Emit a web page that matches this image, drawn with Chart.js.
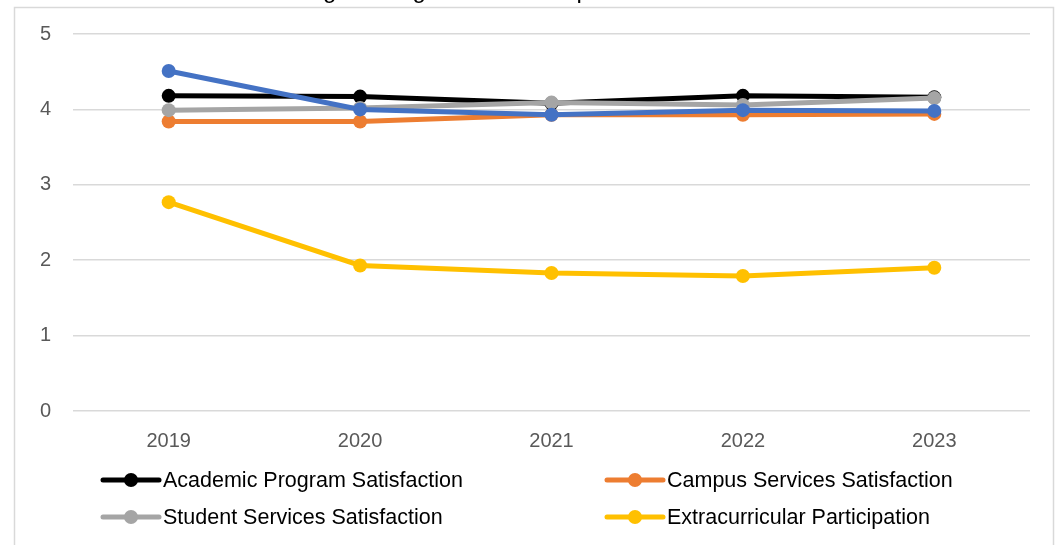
<!DOCTYPE html>
<html>
<head>
<meta charset="utf-8">
<script src="https://cdn.jsdelivr.net/npm/chart.js@4.4.1/dist/chart.umd.min.js"></script>
<style>
  html, body { margin: 0; padding: 0; background: #fff; overflow: hidden; }
  #wrap { position: absolute; left: 0; top: 0; width: 1057px; height: 600px; }
</style>
</head>
<body>
<div id="wrap"><canvas id="myChart" width="1057" height="600"></canvas></div>
<script>
var years = ['2019', '2020', '2021', '2022', '2023'];
var yTicks = [0, 1, 2, 3, 4, 5];
var chartTitle = 'Average Rating of Student Experience Indicators';

var seriesNames = [
  'Academic Program Satisfaction',
  'Campus Services Satisfaction',
  'Student Services Satisfaction',
  'Extracurricular Participation',
  'Overall Experience Rating'
];
var academic = [4.18, 4.17, 4.08, 4.18, 4.16];
var campus = [3.84, 3.84, 3.93, 3.93, 3.94];
var student = [3.99, 4.02, 4.09, 4.06, 4.15];
var extracurricular = [2.77, 1.93, 1.83, 1.79, 1.90];
var overall = [4.51, 4.00, 3.93, 3.99, 3.98];
var seriesColors = ['#000000', '#ED7D31', '#A5A5A5', '#FFC000', '#4472C4'];

var FONT = "'Liberation Sans', Arial, sans-serif";

var allValues = [academic, campus, student, extracurricular, overall];
var datasets = allValues.map(function(vals, i){
  return {
    label: seriesNames[i],
    data: vals,
    borderColor: seriesColors[i],
    backgroundColor: seriesColors[i],
    borderWidth: 5,
    pointRadius: 7,
    pointHoverRadius: 7,
    pointBorderWidth: 0,
    tension: 0,
    order: 4 - i
  };
});

// chart frame, cut-off title and the two-column legend
var framePlugin = {
  id: 'frame',
  beforeDraw: function(chart){
    var ctx = chart.ctx;
    ctx.save();
    ctx.fillStyle = '#fff';
    ctx.fillRect(0, 0, chart.width, chart.height);
    ctx.strokeStyle = '#d9d9d9';
    ctx.lineWidth = 1.5;
    ctx.strokeRect(14.5, 7.5, 1039, 700);
    ctx.restore();
  },
  afterDraw: function(chart){
    var ctx = chart.ctx;
    ctx.save();
    ctx.fillStyle = '#000';
    ctx.font = '24px ' + FONT;
    ctx.textAlign = 'center';
    ctx.textBaseline = 'alphabetic';
    ctx.fillText(chartTitle, 520, -2);

    var cols = [103, 607];
    var rows = [480, 517, 554];
    ctx.font = '21.5px ' + FONT;
    ctx.textAlign = 'left';
    ctx.textBaseline = 'middle';
    seriesNames.forEach(function(name, i){
      var x = cols[i % 2], y = rows[Math.floor(i / 2)];
      ctx.strokeStyle = seriesColors[i];
      ctx.lineWidth = 5;
      ctx.lineCap = 'round';
      ctx.beginPath();
      ctx.moveTo(x, y);
      ctx.lineTo(x + 56, y);
      ctx.stroke();
      ctx.fillStyle = seriesColors[i];
      ctx.beginPath();
      ctx.arc(x + 28, y, 7, 0, Math.PI * 2);
      ctx.fill();
      ctx.fillStyle = '#000';
      ctx.fillText(name, x + 60, y + 1);
    });
    ctx.restore();
  }
};

var context = document.getElementById('myChart');
var chart = new Chart(context, {
  type: 'line',
  data: { labels: years, datasets: datasets },
  options: {
    responsive: false,
    animation: false,
    events: [],
    layout: { padding: { left: 0, top: 34, right: 27, bottom: 149 } },
    plugins: { legend: { display: false }, tooltip: { enabled: false } },
    scales: {
      x: {
        offset: true,
        grid: { display: false, drawTicks: false },
        border: { display: false },
        ticks: { color: '#595959', font: { family: FONT, size: 20 }, padding: 18 },
        afterFit: function(s){ s.height = 40; }
      },
      y: {
        min: 0,
        max: 5,
        afterBuildTicks: function(s){ s.ticks = yTicks.map(function(v){ return { value: v }; }); },
        grid: { color: '#d9d9d9', lineWidth: 1.5, drawTicks: false },
        border: { display: false },
        ticks: { color: '#595959', font: { family: FONT, size: 20 }, padding: 22 },
        afterFit: function(s){ s.width = 73; }
      }
    }
  },
  plugins: [framePlugin]
});
</script>
</body>
</html>
